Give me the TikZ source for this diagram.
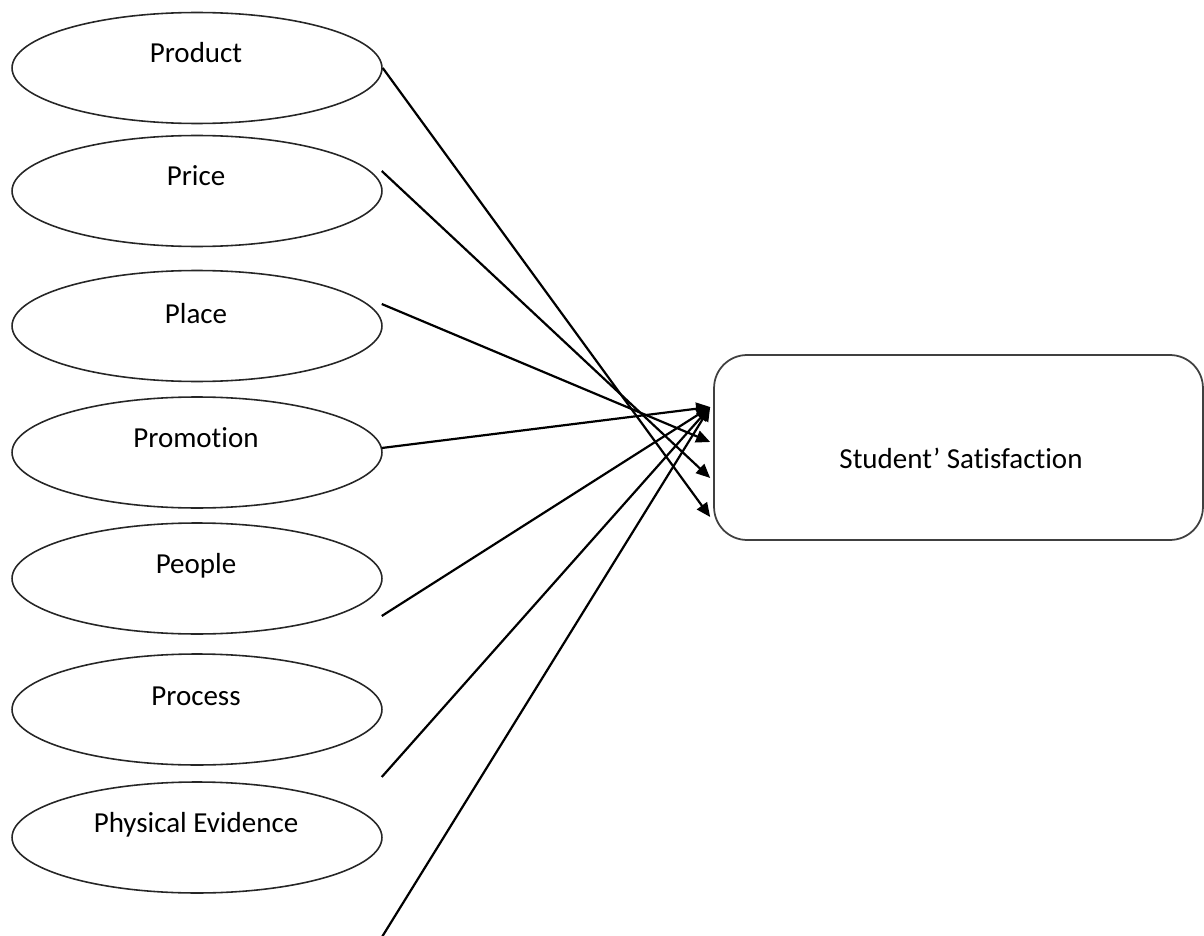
\documentclass[tikz,border=0pt]{standalone}
\usepackage{fontspec}
\setmainfont{Carlito}[Ligatures=NoCommon]
\usetikzlibrary{shapes.geometric,arrows.meta,calc}
\begin{document}
\begin{tikzpicture}[x=0.02cm,y=-0.02cm,
  factor/.style={ellipse, draw=black!85, line width=0.9pt, inner sep=0pt,
    minimum width=7.4cm, minimum height=2.22cm},
  lbl/.style={anchor=base, inner sep=0pt, font=\fontsize{16.5}{20}\selectfont},
  outcome/.style={draw=black!75, line width=1pt, rounded corners=0.66cm,
    minimum width=9.78cm, minimum height=3.7cm, inner sep=0pt},
  conn/.style={line width=1.25pt, -{Triangle[length=8pt,width=7pt]}}]
\useasboundingbox (0,0) rectangle (1204,936);

% the seven marketing-mix factors
\node[factor] (product)   at (197,68)    {};
\node[factor] (price)     at (197,191)   {};
\node[factor] (place)     at (197,326)   {};
\node[factor] (promotion) at (197,452.5) {};
\node[factor] (people)    at (197,578.5) {};
\node[factor] (process)   at (197,709.5) {};
\node[factor] (physical)  at (197,837.5) {};

\node[lbl] (product-t)   at (196,63)  {Product};
\node[lbl] (price-t)     at (196,186) {Price};
\node[lbl] (place-t)     at (196,323) {Place};
\node[lbl] (promotion-t) at (196,447) {Promotion};
\node[lbl] (people-t)    at (196,573) {People};
\node[lbl] (process-t)   at (196,705) {Process};
\node[lbl] (physical-t)  at (196,832) {Physical Evidence};

% outcome box
\node[outcome] (ss) at (958.5,447.5) {};
\node[lbl] (ss-t) at (961,468) {Student’ Satisfaction};

% connector start points beside the ellipses
\coordinate (s1) at (product.east);
\coordinate (s2) at ($(price.east)+(-1,-20)$);
\coordinate (s3) at ($(place.east)+(-1,-22)$);
\coordinate (s4) at ($(promotion.east)+(-1,-4.5)$);
\coordinate (s5) at ($(people.east)+(-1,37.5)$);
\coordinate (s6) at ($(process.east)+(-1,67.5)$);
\coordinate (s7) at (377,945);

% arrow tips at the left side of the box
\coordinate (t1) at ($(ss.west)+(-3,-40.5)$);
\coordinate (t2) at ($(ss.west)+(-3,-5.5)$);
\coordinate (t3) at ($(ss.west)+(-3,30.5)$);
\coordinate (t4) at ($(ss.west)+(-3,69.5)$);

\draw[conn] (s1) -- (t4);
\draw[conn] (s2) -- (t3);
\draw[conn] (s3) -- (t2);
\draw[conn] (s4) -- (t1);
\draw[conn] (s5) -- (t1);
\draw[conn] (s6) -- (t1);
\draw[conn] (s7) -- (t1);
\end{tikzpicture}
\end{document}
